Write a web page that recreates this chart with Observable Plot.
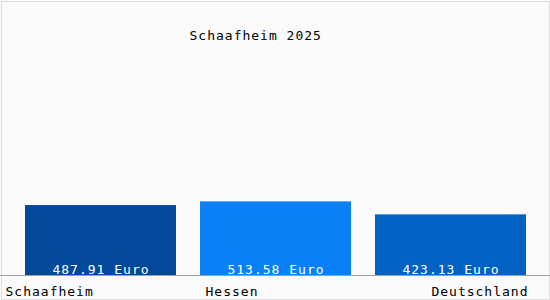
<!DOCTYPE html>
<html>
<head>
<meta charset="utf-8">
<script src="https://cdn.jsdelivr.net/npm/d3@7"></script>
<script src="https://cdn.jsdelivr.net/npm/@observablehq/plot@0.6"></script>
<style>
  html, body { margin: 0; padding: 0; background: #ffffff; }
</style>
</head>
<body>
<div id="chart"></div>
<script>
const title = "Schaafheim 2025";
const categories = ["Schaafheim", "Hessen", "Deutschland"];
const values = [487.91, 513.58, 423.13];
const unit = "Euro";
const colors = ["#03499a", "#0a80f5", "#0262c4"];

const data = categories.map((c, i) => ({category: c, value: values[i], label: values[i].toFixed(2) + " " + unit}));

const font = {fontFamily: "DejaVu Sans Mono", fontSize: 13};

const chart = Plot.plot({
  width: 550,
  height: 300,
  margin: 0,
  style: {background: "#fafafa", fontFamily: "DejaVu Sans Mono", fontSize: "13px", letterSpacing: "1px"},
  x: {domain: categories, range: [13, 538], paddingInner: 24/175, paddingOuter: 12/175, axis: null},
  y: {domain: [0, 1500], range: [275, 60], axis: null},
  color: {domain: categories, range: colors},
  marks: [
    Plot.frame({stroke: "#dcdcdc", inset: 1}),
    Plot.barY(data, {x: "category", y: "value", fill: "category"}),
    Plot.ruleY([0], {stroke: "#a0a0a0", strokeWidth: 1}),
    Plot.text(data, {x: "category", y: 0, text: "label", fill: "white", lineAnchor: "bottom", dy: -2, dx: 0, ...font}),
    Plot.text([categories[0]], {x: d => d, frameAnchor: "bottom", lineAnchor: "bottom", textAnchor: "start", dx: -95.5, dy: -5, fill: "black", ...font}),
    Plot.text([categories[1]], {x: d => d, frameAnchor: "bottom", lineAnchor: "bottom", textAnchor: "start", dx: -70.5, dy: -5, fill: "black", ...font}),
    Plot.text([categories[2]], {x: d => d, frameAnchor: "bottom", lineAnchor: "bottom", textAnchor: "end", dx: 77.5, dy: -5, fill: "black", ...font}),
    Plot.text([title], {frameAnchor: "top-left", textAnchor: "start", lineAnchor: "top", dx: 189, dy: 30, fill: "black", ...font})
  ]
});
document.getElementById("chart").appendChild(chart);
</script>
</body>
</html>
